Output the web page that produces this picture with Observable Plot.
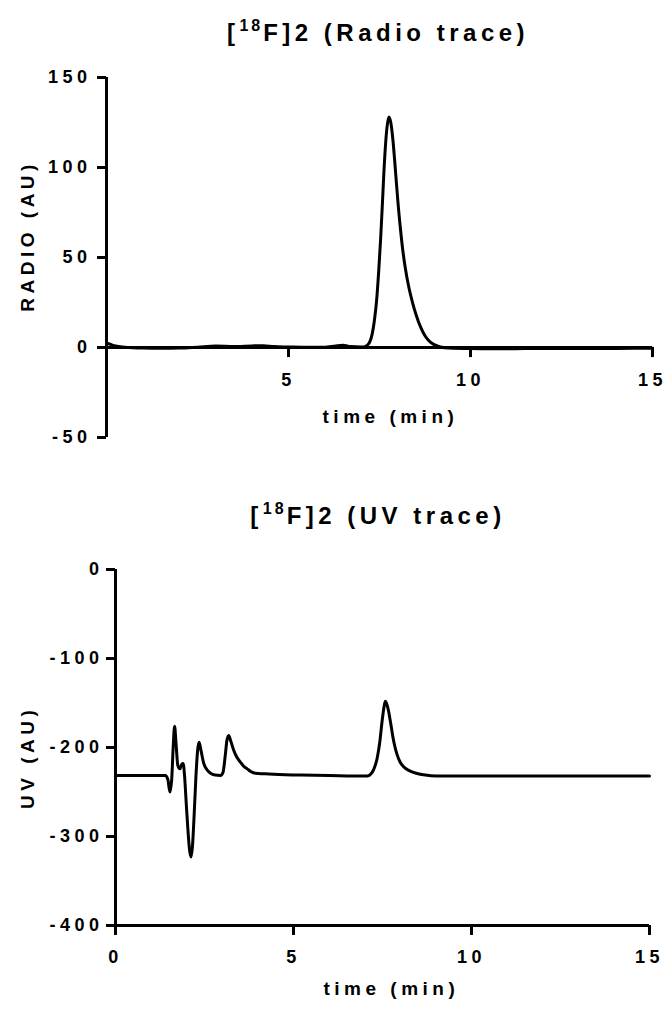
<!DOCTYPE html>
<html><head><meta charset="utf-8">
<script src="https://cdn.jsdelivr.net/npm/d3@7"></script>
<script src="https://cdn.jsdelivr.net/npm/@observablehq/plot@0.6"></script>
<style>
body{margin:0;background:#fff;width:665px;height:1012px;position:relative;overflow:hidden;font-family:"Liberation Sans",Arial,sans-serif;}
.title{position:absolute;left:91px;width:574px;text-align:center;font-weight:bold;font-size:24px;letter-spacing:4.5px;color:#000;line-height:24px;white-space:nowrap;}
.title sup{font-size:16px;vertical-align:10px;line-height:0;letter-spacing:3px;}
#c1{position:absolute;left:0;top:0}
#c2{position:absolute;left:0;top:470px}
</style></head><body>
<div id="c1"></div><div id="c2"></div>
<div class="title" style="top:21px">[<sup>18</sup>F]2 (Radio trace)</div>
<div class="title" style="top:504px">[<sup>18</sup>F]2 (UV trace)</div>
<script>
// ---- data ----
const radioTime = [0,0.1,0.25,0.5,1.0,1.5,2.0,2.5,3.0,3.5,4.0,4.3,4.6,5.0,5.5,6.0,6.3,6.5,6.7,7.0,7.1,7.16,7.23,7.3,7.36,7.42,7.48,7.53,7.58,7.62,7.67,7.71,7.76,7.81,7.87,7.92,7.97,8.01,8.08,8.14,8.21,8.3,8.4,8.5,8.63,8.75,8.85,9.0,9.18,9.4,10,11,12,13,14,15];
const radioSignal = [2.5,1.8,0.8,0.2,-0.3,-0.4,-0.3,0.2,0.8,0.6,0.9,1.0,0.5,0.3,0.1,0.2,0.9,1.2,0.5,0.3,0.5,1.2,3,7.6,15,26,43,60,80,97,114,123,128,125,115,103,90,80,65,54,44,34,25.5,18.5,11.3,6.5,3.9,1.6,0.3,-0.3,-0.6,-0.7,-0.5,-0.6,-0.5,-0.4];
const uvTime = [0,1.4,1.47,1.53,1.58,1.62,1.66,1.70,1.75,1.81,1.86,1.90,1.94,1.98,2.03,2.08,2.12,2.16,2.21,2.26,2.31,2.35,2.40,2.48,2.57,2.67,2.8,2.95,3.02,3.08,3.13,3.18,3.24,3.32,3.41,3.51,3.60,3.70,3.80,3.93,4.2,4.44,5.2,6.0,7.07,7.21,7.28,7.35,7.42,7.49,7.54,7.58,7.62,7.67,7.71,7.76,7.80,7.86,7.91,7.99,8.1,8.25,8.45,8.7,9.0,10,12,15];
const uvSignal = [-231.5,-231.5,-236,-250,-235,-200,-176,-195,-220,-224,-219,-218,-232,-258,-290,-315,-323,-312,-275,-232,-202,-194,-203,-218,-225,-229,-231,-231.5,-228,-210,-192,-186.5,-193,-203,-211,-216.5,-221,-224,-227,-229,-229.5,-230,-231,-231.5,-232,-228,-222,-212,-195,-170,-155,-148,-151,-159,-168,-180,-190,-201,-208,-216,-222,-226,-229,-231,-232,-232,-232,-232];
const radioYTicks = [-50,0,50,100,150];
const radioXTicks = [5,10,15];
const uvYTicks = [-400,-300,-200,-100,0];
const uvXTicks = [0,5,10,15];
const radioYLabel = "RADIO (AU)";
const uvYLabel = "UV (AU)";
const xLabel = "time (min)";

const radio = radioTime.map((t,i)=>({t, v: radioSignal[i]}));
const uv = uvTime.map((t,i)=>({t, v: uvSignal[i]}));
const baseStyle = {fontFamily:'"Liberation Sans", Arial, sans-serif', fontWeight:"bold", fontSize:"18px", color:"#000", background:"#fff", letterSpacing:"4.5px", overflow:"visible"};
const fmt = d => String(d);

const p1 = Plot.plot({
  width:665, height:470, marginLeft:106, marginRight:13, marginTop:77, marginBottom:33,
  style: baseStyle,
  x:{domain:[0,15], axis:null}, y:{domain:[-50,150], axis:null},
  marks:[
    Plot.line(radio, {x:"t", y:"v", strokeWidth:3, curve:"monotone-x"}),
    Plot.ruleX([0], {strokeWidth:3}),
    Plot.ruleY([0], {strokeWidth:3}),
    Plot.axisY(radioYTicks, {tickSize:9, tickPadding:6, strokeWidth:3, fontSize:18, tickFormat:fmt, label:null}),
    Plot.ruleX(radioXTicks, {x:d=>d, y1:0, y2:-5.6, strokeWidth:3}),
    Plot.text(radioXTicks, {x:d=>d, y:0, dy:33, text:fmt, fontSize:18}),
    Plot.text([xLabel], {x:7.8, y:0, dy:69, text:d=>d, fontSize:19, ariaLabel:"xlabel"}),
    Plot.text([radioYLabel], {x:0, y:62, dx:-79, rotate:-90, text:d=>d, fontSize:19, ariaLabel:"ylabel"})
  ]
});
document.getElementById("c1").appendChild(p1);

const p2 = Plot.plot({
  width:665, height:542, marginLeft:115, marginRight:16, marginTop:99, marginBottom:87,
  style: baseStyle,
  x:{domain:[0,15], axis:null}, y:{domain:[-400,0], axis:null},
  marks:[
    Plot.line(uv, {x:"t", y:"v", strokeWidth:3, curve:"monotone-x"}),
    Plot.ruleX([0], {strokeWidth:3}),
    Plot.ruleY([-400], {strokeWidth:3}),
    Plot.axisY(uvYTicks, {tickSize:9, tickPadding:3, strokeWidth:3, fontSize:18, tickFormat:fmt, label:null}),
    Plot.ruleX(uvXTicks, {x:d=>d, y1:-400, y2:-411.2, strokeWidth:3}),
    Plot.text(uvXTicks, {x:d=>d, y:-400, dy:32, text:fmt, fontSize:18}),
    Plot.text([xLabel], {x:7.75, y:-400, dy:63, text:d=>d, fontSize:19, ariaLabel:"xlabel"}),
    Plot.text([uvYLabel], {x:0, y:-211, dx:-88, rotate:-90, text:d=>d, fontSize:19, ariaLabel:"ylabel"})
  ]
});
document.getElementById("c2").appendChild(p2);

for (const svg of [p1, p2]) {
  d3.select(svg).selectAll("[aria-label='xlabel'] text, [aria-label='ylabel'] text").style("letter-spacing","2.5px");
}
</script>
</body></html>
